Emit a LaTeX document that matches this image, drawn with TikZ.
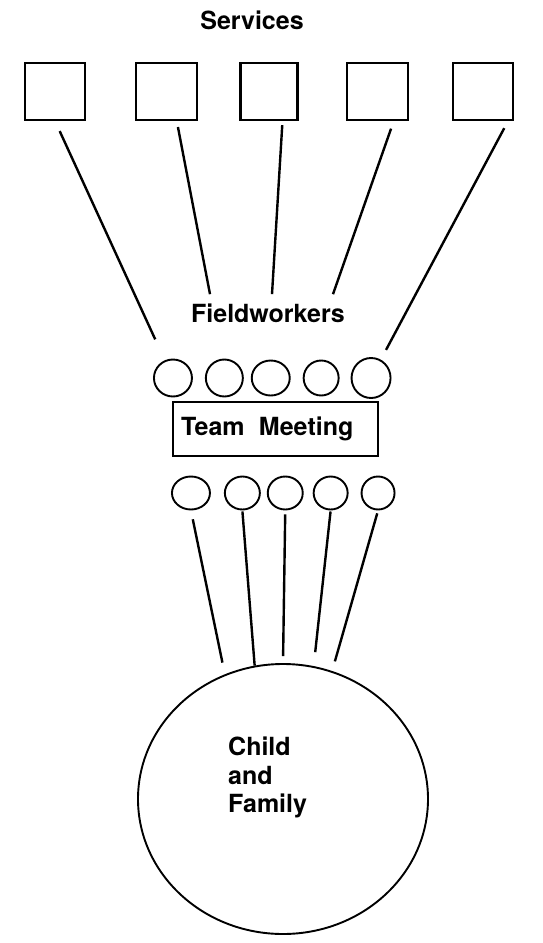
\documentclass[tikz,border=0pt]{standalone}
\usepackage{fontspec}
\setmainfont{TeX Gyre Heros}
\usetikzlibrary{shapes.geometric,positioning}
\newcommand{\lbl}{\bfseries\fontsize{25}{28.5}\selectfont}

\begin{document}
\begin{tikzpicture}[x=1pt,y=-1pt,
    service/.style={anchor=west,draw,line width=2.2pt,minimum width=#1,minimum height=57pt,inner sep=0pt},
    worker/.style 2 args={anchor=west,draw,ellipse,line width=1.9pt,inner sep=0pt,minimum width=#1,minimum height=#2},
    link/.style={line width=2.4pt}]
\useasboundingbox (0,0) rectangle (543,943);

    % services
    \node[font=\lbl,anchor=base,inner sep=0pt] (srv) at (252,29) {Services};
    \node[service=60pt] (b1) at (24,91.5) {};
    \node[service=61pt] (b2) at ([xshift=49pt]b1.east) {};
    \node[service=57pt] (b3) at ([xshift=41pt]b2.east) {};
    \node[service=61pt] (b4) at ([xshift=47pt]b3.east) {};
    \node[service=60pt] (b5) at ([xshift=43pt]b4.east) {};

    % fieldworkers
    \node[font=\lbl,anchor=base,inner sep=0pt] (fw) at (268,322) {Fieldworkers};
    \node[worker={38pt}{37pt}] (f1) at (153,378) {};
    \node[worker={37pt}{37pt}] (f2) at ([xshift=12pt]f1.east) {};
    \node[worker={38pt}{35pt}] (f3) at ([xshift=7pt]f2.east) {};
    \node[worker={35pt}{35pt}] (f4) at ([xshift=12pt]f3.east) {};
    \node[worker={39pt}{40pt}] (f5) at ([xshift=11pt]f4.east) {};

    \draw[link,shorten <=11pt,shorten >=23pt] (b1.south) -- (f1);
    \draw[link,shorten <=6pt] ([xshift=10pt]b2.south) -- ([xshift=-58pt,yshift=9pt]fw.north);
    \draw[link,shorten <=4pt] ([xshift=13.5pt]b3.south) -- ([xshift=4pt,yshift=9pt]fw.north);
    \draw[link,shorten <=8pt] ([xshift=16.5pt]b4.south) -- ([xshift=65pt,yshift=9pt]fw.north);
    \draw[link,shorten <=8pt,shorten >=11pt] ([xshift=-6pt]b5.south east) -- (f5);

    % team meeting
    \node[draw,line width=2.2pt,anchor=west,minimum height=54pt,text width=189pt,
          inner xsep=8pt,align=left,font=\lbl] (tm) at (172,429) {Team\hspace{6pt} Meeting};

    \node[worker={38pt}{33pt}] (c1) at (171,493) {};
    \node[worker={35pt}{33pt}] (c2) at ([xshift=13pt]c1.east) {};
    \node[worker={35pt}{33pt}] (c3) at ([xshift=6pt]c2.east) {};
    \node[worker={34pt}{33pt}] (c4) at ([xshift=9pt]c3.east) {};
    \node[worker={33pt}{33pt}] (c5) at ([xshift=12pt]c4.east) {};

    % child and family
    \node[draw,ellipse,line width=1.9pt,minimum width=290pt,minimum height=270pt] (cf) at (283,799) {};
    \node[font=\lbl,align=left,anchor=north west,inner sep=0pt] (cft)
        at ([xshift=-55pt,yshift=62pt]cf.center) {Child\\and\\Family};

    \draw[link,shorten <=9pt,shorten >=12pt] (c1.south) -- (cf.115.8);
    \draw[link,shorten <=1pt] (c2.south) -- (cf.102.4);
    \draw[link,shorten <=4pt,shorten >=7pt] (c3.south) -- (cf.90);
    \draw[link,shorten <=1pt,shorten >=14pt] (c4.south) -- (cf.77.6);
    \draw[link,shorten <=3pt,shorten >=10pt] (c5.south) -- (cf.69.4);
\end{tikzpicture}
\end{document}
